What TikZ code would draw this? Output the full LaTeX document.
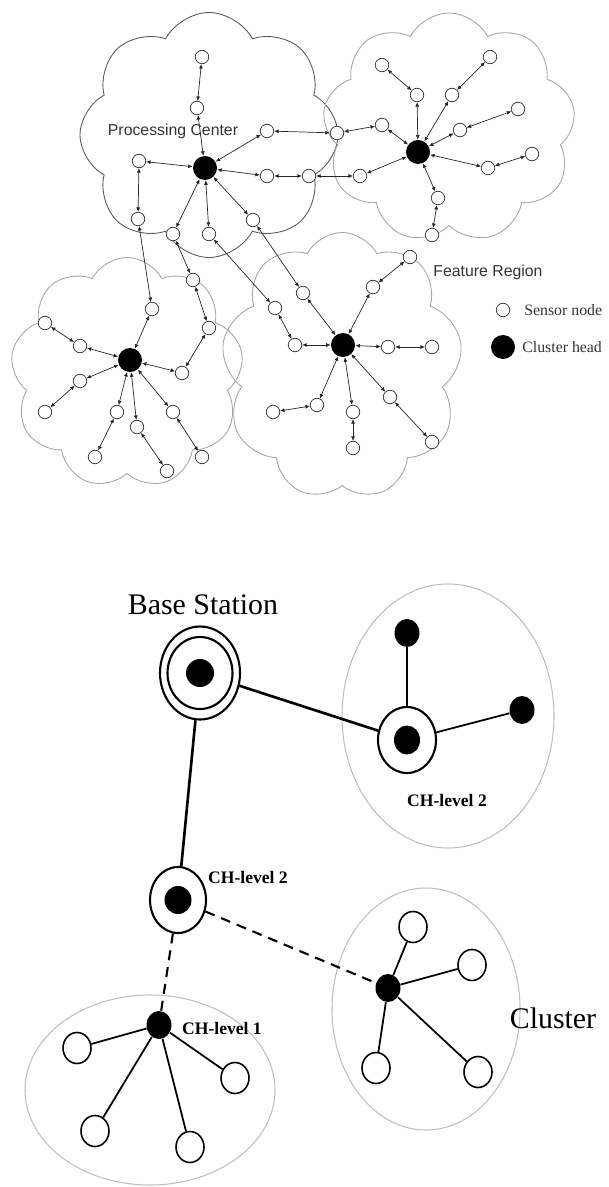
\documentclass[tikz,border=0pt]{standalone}
\usepackage{fontspec}
\setmainfont{Liberation Serif}
\newfontfamily\arialfont{Liberation Sans}
\usetikzlibrary{shapes.symbols,shapes.geometric,arrows.meta}

\begin{document}
\begin{tikzpicture}[x=0.2mm,y=-0.2mm,
        sensornode/.style={circle,draw=black!80,fill=white,inner sep=0pt,minimum size=2.7mm,line width=0.4pt},
        clusterhead/.style={circle,fill=black,inner sep=0pt,minimum size=4.8mm},
        link/.style={line width=0.4pt,black!85,{Latex[length=0.9mm,width=0.8mm]}-{Latex[length=0.9mm,width=0.8mm]}},
        region/.style={cloud,cloud puffs=8,cloud puff arc=125,cloud ignores aspect,draw=black!35,line width=0.5pt,inner sep=0pt},
        ring/.style={ellipse,draw,fill=white,line width=1.2pt,inner sep=0pt},
        chdot/.style={ellipse,fill=black,inner sep=0pt,minimum width=5mm,minimum height=5.6mm},
        mote/.style={ellipse,draw,fill=white,line width=0.9pt,inner sep=0pt,minimum width=5.6mm,minimum height=6.2mm},
        zone/.style={ellipse,draw=black!25,line width=0.6pt,inner sep=0pt},
        wire/.style={line width=1pt},
        trunk/.style={line width=1.5pt},
        hop/.style={line width=1.2pt,dash pattern=on 2mm off 1.4mm},
        chtext/.style={font=\bfseries\fontsize{10}{10}\selectfont}]
    \useasboundingbox (0,0) rectangle (609,1187);

    % Draw feature regions
    \node[region,draw=black!65,minimum width=51.6mm,minimum height=49mm] (cloudpc) at (209,135) {};
    \node[region,cloud puffs=9,minimum width=50.6mm,minimum height=46mm] (cloudr) at (449,128) {};
    \node[region,cloud puffs=9,minimum width=46.6mm,minimum height=46.2mm] (cloudl) at (127,373) {};
    \node[region,cloud puffs=9,minimum width=48.2mm,minimum height=53.4mm] (cloudf) at (342,366) {};

    % Cluster heads
    \node[clusterhead] (pc) at (205,168) {};
    \node[clusterhead] (ra) at (418,152) {};
    \node[clusterhead] (lh) at (130,360) {};
    \node[clusterhead] (fh) at (343,345) {};

    % Sensor nodes
    \foreach \nm/\px/\py in {p1/202/57, p2/197/108, p3/267/131, p4/139/161, p5/267/176,
            p6/309/176, p7/138/219, p8/173/234, p9/209/234, p10/253/220, b1/337/133,
            r1/382/65, r2/417/95, r3/452/95, r4/490/57, r5/518/109, r6/460/130,
            r7/382/125, r8/532/154, r9/488/168, r10/360/176, r11/438/198, r12/432/235,
            l1/152/309, l2/45/323, l3/80/346, l4/193/280, l5/209/328, l6/182/373,
            l7/80/381, l8/45/412, l9/117/412, l10/137/427, l11/173/412, l12/95/457,
            l13/167/471, l14/202/457,
            f1/275/308, f2/295/345, f3/303/293, f4/373/287, f5/410/257, f6/388/347,
            f7/432/347, f8/390/397, f9/432/442, f10/317/405, f11/273/412, f12/353/412,
            f13/353/448}
        \node[sensornode] (\nm) at (\px,\py) {};

    % Draw links
    \foreach \a/\b in {p1/p2, p2/pc, pc/p4, p4/p7, p7/l1, l1/lh,
            pc/p3, p3/b1, b1/r7, r7/ra, pc/p5, p5/p6, p6/r10, r10/ra,
            pc/p8, p8/l4, l4/l5, l5/l6, l6/lh, pc/p9, p9/f1, f1/f2, f2/fh,
            pc/p10, p10/f3, f3/fh,
            ra/r2, r2/r1, ra/r3, r3/r4, ra/r6, r6/r5, ra/r9, r9/r8, ra/r11, r11/r12,
            lh/l3, l3/l2, lh/l7, l7/l8, lh/l9, l9/l12, lh/l10, l10/l13, lh/l11, l11/l14,
            fh/f4, f4/f5, fh/f6, f6/f7, fh/f8, f8/f9, fh/f10, f10/f11, fh/f12, f12/f13}
        \draw[link] (\a) -- (\b);

    % Add labels and key
    \node[font=\arialfont\fontsize{9}{9}\selectfont,black!80] (pclabel) at (173,131) {Processing Center};
    \node[font=\arialfont\fontsize{9}{9}\selectfont,black!80] (frlabel) at (488,272) {Feature Region};
    \node[sensornode] (keysensor) at (503,310) {};
    \node[clusterhead,minimum size=4.8mm] (keyhead) at (503,347) {};
    \node[anchor=west,inner sep=0pt,font=\fontsize{9}{9}\selectfont,black!80] (keysensortext) at (524,310) {Sensor node};
    \node[anchor=west,inner sep=0pt,font=\fontsize{9}{9}\selectfont,black!80] (keyheadtext) at (522,347) {Cluster head};

    % Draw cluster zones
    \node[zone,minimum width=42.4mm,minimum height=52.8mm] (zoner) at (448,716) {};
    \node[zone,minimum width=50mm,minimum height=38mm] (zonel) at (150,1090) {};
    \node[zone,minimum width=37.6mm,minimum height=48.4mm] (zonec) at (426,1009) {};

    % Base station and level 2 heads
    \node[ring,minimum width=16mm,minimum height=18.6mm] (bs) at (200,673) {};
    \node[ring,minimum width=13mm,minimum height=14.4mm] (bsin) at (200,673) {};
    \node[chdot,minimum width=5.6mm,minimum height=5.6mm] (bsc) at (200,673) {};
    \node[ring,minimum width=11.6mm,minimum height=13.2mm] (chr) at (407,740) {};
    \node[chdot,minimum width=5.2mm,minimum height=5.8mm] (chrc) at (407,740) {};
    \node[ring,minimum width=11.2mm,minimum height=13.2mm] (chl) at (178,900) {};
    \node[chdot,minimum width=5.4mm,minimum height=5.6mm] (chlc) at (178,900) {};
    \node[chdot] (m1) at (407,633) {};
    \node[chdot] (m2) at (522,710) {};

    % Level 1 heads and members
    \node[chdot] (ch1) at (159,1025) {};
    \node[chdot] (chc) at (388,988) {};
    \foreach \nm/\px/\py in {a1/77/1048, a2/235/1078, a3/95/1131, a4/190/1147,
            c1/413/927, c2/472/965, c3/376/1068, c4/478/1072}
        \node[mote] (\nm) at (\px,\py) {};

    % Draw hierarchy links
    \draw[trunk] (bs) -- (chr);
    \draw[trunk] (bs) -- (chl);
    \draw[wire] (chr) -- (m1);
    \draw[wire] (chr) -- (m2);
    \draw[hop] (chl) -- (ch1);
    \draw[hop] (chl) -- (chc);
    \foreach \a/\b in {ch1/a1, ch1/a2, ch1/a3, ch1/a4, chc/c1, chc/c2, chc/c3, chc/c4}
        \draw[wire] (\a) -- (\b);

    % Add labels
    \node[font=\fontsize{17}{17}\selectfont] (bslabel) at (203,605) {Base Station};
    \node[chtext] (chrlabel) at (447,800) {CH-level 2};
    \node[chtext] (chllabel) at (248,877) {CH-level 2};
    \node[chtext] (ch1label) at (222,1028) {CH-level 1};
    \node[font=\fontsize{17}{17}\selectfont] (clabel) at (553,1018) {Cluster};
\end{tikzpicture}
\end{document}
